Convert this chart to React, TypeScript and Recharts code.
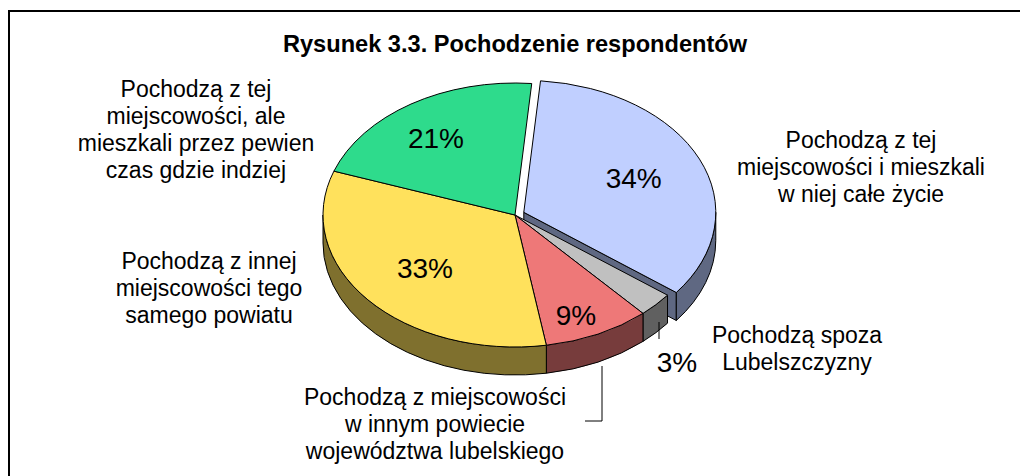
import React from 'react';
import { PieChart, Pie, Cell } from 'recharts';

// ---------- data ----------
const title = 'Rysunek 3.3. Pochodzenie respondentów';
const categories = [
  'Pochodzą z tej miejscowości i mieszkali w niej całe życie',
  'Pochodzą spoza Lubelszczyzny',
  'Pochodzą z miejscowości w innym powiecie województwa lubelskiego',
  'Pochodzą z innej miejscowości tego samego powiatu',
  'Pochodzą z tej miejscowości, ale mieszkali przez pewien czas gdzie indziej',
];
const values = [34, 3, 9, 33, 21];
const labelLines = [
  ['Pochodzą z tej', 'miejscowości i mieszkali', 'w niej całe życie'],
  ['Pochodzą spoza', 'Lubelszczyzny'],
  ['Pochodzą z miejscowości', 'w innym powiecie', 'województwa lubelskiego'],
  ['Pochodzą z innej', 'miejscowości tego', 'samego powiatu'],
  ['Pochodzą z tej', 'miejscowości, ale', 'mieszkali przez pewien', 'czas gdzie indziej'],
];

// ---------- styles / layout ----------
const topColors = ['#C0CFFF', '#C0C0C0', '#EE7878', '#FFE15C', '#2EDB8C'];
const sideColors = ['#5F6882', '#606060', '#773C3C', '#7F702E', '#176E46'];
const FONT = '"Liberation Sans", Arial, Helvetica, sans-serif';
const RY_RATIO = 132 / 192;
const DEPTH = 28;
const EXPLODE = 0.05;
const RAD = Math.PI / 180;
// percent label radial factors (x, y)
const pctFactors: [number, number][] = [
  [0.626, 0.64],
  [1.15, 1.64],
  [0.735, 0.84],
  [0.612, 0.624],
  [0.76, 0.694],
];
// category label anchor offsets from pie center (center x, first baseline)
const catOffsets: [number, number][] = [
  [346, -67],
  [282, 128],
  [-80, 190],
  [-306, 54],
  [-319, -118],
];
const LINE_H = 27;

const data = categories.map((name, i) => ({ name, value: values[i] }));

const idxOf = (props: any) => {
  const n = props.name ?? props.payload?.name;
  const i = categories.indexOf(n);
  return i >= 0 ? i : props.index ?? 0;
};

const explodeOffset = (idx: number, mid: number, rx: number, ry: number) => {
  if (idx !== 0) return [0, 0];
  return [EXPLODE * rx * Math.cos(mid * RAD), -EXPLODE * ry * Math.sin(mid * RAD)];
};

const Slice3D = (props: any) => {
  const { cx, cy, outerRadius, startAngle, endAngle } = props;
  const idx = idxOf(props);
  const rx = outerRadius;
  const ry = outerRadius * RY_RATIO;
  const mid = (startAngle + endAngle) / 2;
  const [ox, oy] = explodeOffset(idx, mid, rx, ry);
  const ccx = cx + ox;
  const ccy = cy + oy;
  const P = (a: number, d = 0) => [ccx + rx * Math.cos(a * RAD), ccy - ry * Math.sin(a * RAD) + d];
  const hi = Math.max(startAngle, endAngle);
  const lo = Math.min(startAngle, endAngle);
  const large = hi - lo > 180 ? 1 : 0;
  const ps = P(hi);
  const pe = P(lo);
  const top = `M${ccx},${ccy} L${ps[0]},${ps[1]} A${rx},${ry} 0 ${large} 1 ${pe[0]},${pe[1]} Z`;

  const parts: React.ReactNode[] = [];
  // radial face of exploded slice at its clockwise end
  if (idx === 0) {
    const a = P(lo);
    const b = P(lo, DEPTH);
    parts.push(
      <path
        key="rad"
        d={`M${ccx},${ccy} L${a[0]},${a[1]} L${b[0]},${b[1]} L${ccx},${ccy + DEPTH} Z`}
        fill={sideColors[idx]}
        stroke="#000"
        strokeWidth={1}
        strokeLinejoin="round"
      />
    );
  }
  // outer side (front half only: angles in [-180, 0])
  const sHi = Math.min(hi, 0);
  const sLo = Math.max(lo, -180);
  if (sHi > sLo) {
    const a1 = P(sHi);
    const a2 = P(sLo);
    const b2 = P(sLo, DEPTH);
    const b1 = P(sHi, DEPTH);
    const lg = sHi - sLo > 180 ? 1 : 0;
    parts.push(
      <path
        key="side"
        d={`M${a1[0]},${a1[1]} A${rx},${ry} 0 ${lg} 1 ${a2[0]},${a2[1]} L${b2[0]},${b2[1]} A${rx},${ry} 0 ${lg} 0 ${b1[0]},${b1[1]} Z`}
        fill={sideColors[idx]}
        stroke="#000"
        strokeWidth={1}
        strokeLinejoin="round"
      />
    );
  }
  parts.push(
    <path key="top" d={top} fill={topColors[idx]} stroke="#000" strokeWidth={1} strokeLinejoin="round" />
  );
  return <g>{parts}</g>;
};

const renderLabel = (props: any) => {
  const { cx, cy, midAngle, outerRadius, value } = props;
  const idx = idxOf(props);
  const rx = outerRadius;
  const ry = outerRadius * RY_RATIO;
  const [ox, oy] = explodeOffset(idx, midAngle, rx, ry);
  const [fx, fy] = pctFactors[idx];
  const px = cx + ox + rx * fx * Math.cos(midAngle * RAD);
  const py = cy + oy - ry * fy * Math.sin(midAngle * RAD);
  const [dx, dy] = catOffsets[idx];
  const lines = labelLines[idx];
  return (
    <g key={`lbl-${idx}`}>
      {idx === 2 && (
        <polyline
          points={`${cx + 87},${cy + 151} ${cx + 87},${cy + 206} ${cx + 70},${cy + 206}`}
          fill="none"
          stroke="#000"
          strokeWidth={1}
        />
      )}
      {idx === 1 && (
        <line x1={cx + 144} y1={cy + 107} x2={cx + 144} y2={cy + 124} stroke="#000" strokeWidth={1} />
      )}
      <text
        x={px}
        y={py + 10}
        textAnchor="middle"
        fontFamily={FONT}
        fontSize={28}
        fill="#000"
      >
        {`${value}%`}
      </text>
      <text textAnchor="middle" fontFamily={FONT} fontSize={23} fill="#000">
        {lines.map((l, i) => (
          <tspan key={i} x={cx + dx} y={cy + dy + i * LINE_H}>
            {l}
          </tspan>
        ))}
      </text>
    </g>
  );
};

export default function App() {
  return (
    <div style={{ position: 'absolute', left: 0, top: 0, width: 1020, height: 476, background: '#fff' }}>
      <PieChart width={1020} height={476} margin={{ top: 0, right: 0, bottom: 0, left: 0 }}>
        <rect x={9} y={11} width={1030} height={500} fill="#fff" stroke="#000" strokeWidth={2} />
        <text x={515} y={52} textAnchor="middle" fontFamily={FONT} fontSize={23.6} fontWeight="bold" fill="#000">
          {title}
        </text>
        <Pie
          data={data}
          dataKey="value"
          nameKey="name"
          cx={515}
          cy={215}
          outerRadius={192}
          startAngle={85}
          endAngle={-275}
          isAnimationActive={false}
          shape={Slice3D}
          activeShape={Slice3D}
          inactiveShape={Slice3D}
          label={renderLabel}
          labelLine={false}
          stroke="#000"
        >
          {data.map((d, i) => (
            <Cell key={d.name} fill={topColors[i]} />
          ))}
        </Pie>
      </PieChart>
    </div>
  );
}
